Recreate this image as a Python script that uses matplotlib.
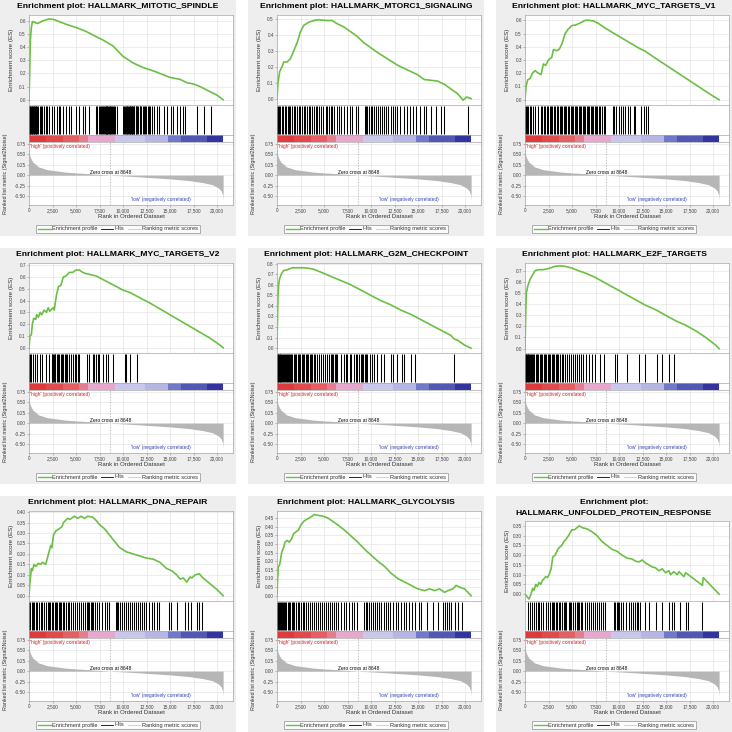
import matplotlib
matplotlib.use('Agg')
import matplotlib.pyplot as plt
from matplotlib.lines import Line2D

plt.rcParams['font.family'] = ['Liberation Sans', 'DejaVu Sans']

# ---------------- data ----------------
TITLES = [
    "Enrichment plot: HALLMARK_MITOTIC_SPINDLE",
    "Enrichment plot: HALLMARK_MTORC1_SIGNALING",
    "Enrichment plot: HALLMARK_MYC_TARGETS_V1",
    "Enrichment plot: HALLMARK_MYC_TARGETS_V2",
    "Enrichment plot: HALLMARK_G2M_CHECKPOINT",
    "Enrichment plot: HALLMARK_E2F_TARGETS",
    "Enrichment plot: HALLMARK_DNA_REPAIR",
    "Enrichment plot: HALLMARK_GLYCOLYSIS",
    "Enrichment plot:\nHALLMARK_UNFOLDED_PROTEIN_RESPONSE",
]

N_GENES = 20650
ZERO_CROSS = 8648
X_TICKS = [0, 2500, 5000, 7500, 10000, 12500, 15000, 17500, 20000]

METRIC_RANKS = [0, 60, 200, 400, 1000, 2000, 4000, 6000, 8648, 11000, 13000,
                15000, 17000, 18500, 19500, 20100, 20450, 20600, 20650]
METRIC_VALUES = [0.62, 0.50, 0.40, 0.32, 0.20, 0.13, 0.07, 0.04, 0.0, -0.03, -0.06,
                 -0.09, -0.13, -0.18, -0.23, -0.30, -0.38, -0.48, -0.60]
RANK_TICKS = [0.75, 0.5, 0.25, 0.0, -0.25, -0.5]

CB_EDGES = [0, 1800, 3600, 5300, 6300, 9200, 12300, 14800, 16200, 18900, 20650]
CB_COLORS = ['#de3a3c', '#e14a4c', '#e45e64', '#e67c90', '#e6a8cc',
             '#c8c8ee', '#b6b6e4', '#7078c8', '#5058b4', '#3434a0']

ES1_R = [0, 70, 140, 250, 360, 600, 900, 1200, 1430, 2140, 2680, 3200, 3930, 5000, 6070,
         7140, 7860, 8930, 10000, 11070, 12140, 13210, 14290, 15000, 16070, 16790, 17500,
         18210, 19290, 20000, 20650]
ES1_V = [0.0, 0.2, 0.45, 0.55, 0.595, 0.59, 0.58, 0.59, 0.60, 0.615, 0.61, 0.595, 0.575,
         0.55, 0.52, 0.48, 0.455, 0.41, 0.33, 0.28, 0.245, 0.22, 0.19, 0.17, 0.155, 0.13,
         0.12, 0.10, 0.06, 0.035, 0.0]
HITS1 = [0, 50, 107, 150, 214, 280, 357, 430, 500, 570, 643, 710, 785, 880, 1000, 1142,
         1285, 1428, 1607, 1785, 1964, 2142, 2428, 2678, 2928, 3142, 3321, 3570, 3927,
         4284, 4463, 4998, 5355, 5712, 5998, 6426, 7140, 7250, 7426, 7550, 7676, 7780,
         7854, 7997, 8070, 8140, 8210, 8283, 8350, 8425, 8500, 8568, 8650, 8747, 8830,
         8925, 9020, 9104, 9353, 9996, 10100, 10200, 10282, 10380, 10460, 10567, 10640,
         10710, 10780, 10853, 10920, 10996, 11070, 11138, 11210, 11353, 11420, 11495,
         11640, 11781, 11860, 11960, 12080, 12209, 12350, 12495, 12640, 12781, 12920,
         13066, 13280, 13566, 13852, 14351, 14637, 15065, 15351, 15708, 16065, 16351,
         16601, 17850, 18564, 19349]

ES2_R = [0, 107, 285, 534, 712, 1068, 1424, 1780, 2136, 2492, 2848, 3382, 3916, 4450,
         5340, 5874, 6408, 7120, 7832, 8544, 9256, 9968, 10680, 11748, 12816, 13884,
         14952, 15664, 16376, 17088, 17800, 18512, 19224, 19800, 20150, 20650]
ES2_V = [0.0, 0.10, 0.17, 0.20, 0.23, 0.23, 0.25, 0.30, 0.35, 0.42, 0.46, 0.48, 0.49,
         0.495, 0.49, 0.49, 0.47, 0.45, 0.42, 0.39, 0.35, 0.32, 0.29, 0.25, 0.21, 0.18,
         0.15, 0.12, 0.115, 0.11, 0.09, 0.06, 0.03, -0.01, 0.01, 0.0]
HITS2 = [0, 107, 214, 356, 498, 641, 854, 997, 1139, 1282, 1424, 1602, 1780, 1958, 2136,
         2314, 2492, 2670, 2848, 3026, 3204, 3418, 3560, 3738, 3916, 4130, 4272, 4486,
         4699, 4913, 5162, 5340, 5518, 5696, 5874, 6052, 6337, 6586, 6835, 7120, 7476,
         7761, 8010, 8366, 8615, 9327, 9470, 9612, 9790, 9968, 10146, 10324, 10538,
         10751, 10965, 11178, 11392, 11606, 11819, 12104, 12389, 12531, 12816, 13101,
         13457, 13813, 14098, 14454, 14810, 15237, 15664, 15878, 16376, 16910, 17444,
         17729, 20363]

ES3_R = [0, 107, 285, 534, 783, 1068, 1424, 1709, 1958, 2207, 2492, 2848, 3026, 3382,
         3631, 3916, 4272, 4557, 4984, 5411, 5874, 6408, 6764, 7298, 7832, 8544, 9256,
         9968, 10680, 11392, 12104, 12816, 13528, 14596, 15664, 16732, 17800, 18868,
         19936, 20650]
ES3_V = [0.0, 0.10, 0.15, 0.16, 0.20, 0.22, 0.20, 0.19, 0.27, 0.26, 0.30, 0.32, 0.38,
         0.37, 0.38, 0.42, 0.50, 0.53, 0.56, 0.565, 0.58, 0.60, 0.60, 0.595, 0.575, 0.54,
         0.51, 0.48, 0.45, 0.42, 0.39, 0.365, 0.33, 0.28, 0.23, 0.18, 0.13, 0.08, 0.03, 0.0]
HITS3 = [0, 107, 214, 356, 498, 641, 854, 1068, 1424, 1709, 1851, 1994, 2136, 2314, 2492,
         2670, 2777, 2919, 3062, 3204, 3382, 3560, 3702, 3845, 3987, 4130, 4272, 4414,
         4557, 4699, 4842, 4984, 5126, 5269, 5411, 5554, 5696, 5838, 5981, 6123, 6266,
         6408, 6550, 6693, 6835, 6978, 7120, 7262, 7405, 7547, 7690, 7832, 8010, 8188,
         8402, 8544, 9327, 9470, 9683, 9968, 10182, 10466, 10680, 10965, 11178, 11606,
         11748, 12318, 12674, 12887, 13101]

ES4_R = [0, 107, 250, 357, 500, 714, 821, 1000, 1178, 1357, 1607, 1856, 2035, 2213, 2428,
         2570, 2678, 2927, 3142, 3392, 3641, 3927, 4284, 4641, 4998, 5355, 5712, 6069,
         6605, 7140, 7854, 8568, 9282, 9996, 10710, 11424, 12138, 12852, 13923, 14994,
         16065, 17136, 18207, 19278, 20349, 20650]
ES4_V = [0.0, 0.10, 0.11, 0.20, 0.25, 0.24, 0.28, 0.26, 0.30, 0.28, 0.32, 0.30, 0.34,
         0.31, 0.33, 0.34, 0.32, 0.45, 0.52, 0.53, 0.60, 0.61, 0.64, 0.64, 0.66, 0.66,
         0.64, 0.63, 0.62, 0.61, 0.58, 0.55, 0.52, 0.49, 0.47, 0.44, 0.41, 0.38, 0.33,
         0.28, 0.23, 0.18, 0.13, 0.08, 0.02, 0.0]
HITS4 = [0, 107, 250, 393, 643, 893, 1142, 1428, 1785, 2142, 2428, 2499, 2570, 2642,
         2713, 2785, 2927, 3070, 3213, 3356, 3499, 3641, 3784, 3927, 4070, 4284, 4427,
         4641, 4855, 4998, 5212, 5355, 6140, 6426, 6783, 6962, 7140, 7354, 7497, 7854,
         8140, 8425, 8925, 10210, 10353, 10781, 11495]

ES5_R = [0, 36, 107, 178, 285, 463, 712, 1068, 1353, 1602, 2136, 2848, 3382, 3916, 4628,
         5696, 6764, 7832, 8900, 9968, 11036, 12104, 13172, 14240, 15308, 16376, 17444,
         18512, 18868, 19224, 19936, 20650]
ES5_V = [0.0, 0.20, 0.50, 0.60, 0.66, 0.70, 0.735, 0.74, 0.75, 0.76, 0.76, 0.76, 0.755,
         0.745, 0.72, 0.68, 0.64, 0.60, 0.55, 0.50, 0.45, 0.41, 0.36, 0.32, 0.27, 0.22,
         0.17, 0.12, 0.085, 0.075, 0.03, 0.0]
HITS5 = [0, 71, 142, 214, 285, 356, 463, 570, 676, 783, 890, 997, 1104, 1210, 1317, 1424,
         1531, 1638, 1780, 1922, 2065, 2207, 2350, 2492, 2634, 2777, 2919, 3062, 3204,
         3346, 3489, 3631, 3774, 3916, 4094, 4272, 4450, 4628, 4842, 5055, 5269, 5482,
         5696, 5838, 5981, 6123, 6266, 6408, 6764, 7120, 7298, 7476, 7761, 7903, 8188,
         8402, 8544, 8722, 8900, 9042, 9185, 9327, 9470, 9612, 9897, 10110, 10324, 10680,
         11036, 11392, 12104, 12389, 12816, 13314, 13528, 14240, 14667, 18868]

ES6_R = [0, 71, 142, 285, 534, 783, 1068, 1424, 1958, 2492, 3204, 3738, 4272, 4984, 5696,
         6408, 7476, 8544, 9612, 10680, 11748, 12816, 13884, 14952, 16020, 17088, 18156,
         19224, 20292, 20650]
ES6_V = [0.0, 0.30, 0.50, 0.56, 0.62, 0.66, 0.70, 0.71, 0.71, 0.72, 0.74, 0.745, 0.74,
         0.725, 0.70, 0.68, 0.64, 0.59, 0.54, 0.49, 0.44, 0.39, 0.35, 0.30, 0.25, 0.21,
         0.16, 0.10, 0.03, 0.0]
HITS6 = [0, 71, 142, 214, 285, 356, 463, 570, 676, 783, 890, 997, 1139, 1282, 1424, 1566,
         1709, 1851, 1994, 2136, 2278, 2421, 2563, 2706, 2848, 2990, 3133, 3275, 3418,
         3560, 3738, 3916, 4094, 4272, 4486, 4699, 4913, 5126, 5340, 5554, 5767, 5981,
         6194, 6515, 6764, 7120, 7476, 8010, 8366, 9541, 9790, 10858, 12104, 12745, 14062,
         14596, 15308, 15878]

ES7_R = [0, 71, 250, 357, 536, 714, 1000, 1250, 1428, 1785, 2071, 2321, 2428, 2606, 2856,
         3213, 3499, 3677, 4106, 4355, 4820, 5177, 5534, 5891, 6248, 6783, 7140, 7497,
         8033, 8568, 9104, 9639, 10353, 11067, 11781, 12495, 13209, 13923, 14637, 15173,
         15708, 16065, 16422, 16779, 17136, 17315, 17672, 18136, 18386, 18921, 19457,
         19992, 20650]
ES7_V = [0.0, 0.05, 0.13, 0.12, 0.15, 0.14, 0.155, 0.15, 0.16, 0.15, 0.20, 0.24, 0.23,
         0.29, 0.31, 0.32, 0.33, 0.35, 0.37, 0.365, 0.38, 0.37, 0.38, 0.37, 0.38, 0.375,
         0.36, 0.34, 0.32, 0.29, 0.26, 0.23, 0.21, 0.20, 0.19, 0.18, 0.175, 0.16, 0.13,
         0.12, 0.10, 0.08, 0.085, 0.065, 0.09, 0.085, 0.10, 0.105, 0.09, 0.07, 0.05, 0.03,
         0.0]
HITS7 = [0, 143, 286, 428, 571, 714, 893, 1071, 1285, 1428, 1642, 1856, 1999, 2142, 2285,
         2428, 2570, 2713, 2856, 2999, 3142, 3285, 3427, 3570, 3749, 3927, 4106, 4284,
         4498, 4712, 4927, 5141, 5355, 5569, 5712, 5926, 6140, 6283, 6426, 6569, 6712,
         6854, 6997, 7211, 7497, 7782, 8068, 8282, 8497, 9210, 9353, 9496, 9639, 9853,
         10067, 10282, 10496, 10710, 10924, 11138, 11353, 11567, 11781, 11995, 12209,
         12495, 12781, 13066, 13280, 13566, 13852, 14923, 15137, 15708, 16636, 16922,
         17208, 17850, 18136, 18421]

ES8_R = [0, 71, 142, 249, 355, 497, 710, 852, 1065, 1314, 1562, 1775, 2024, 2272, 2556,
         2840, 3089, 3444, 3728, 3976, 4331, 4864, 5396, 5929, 6461, 7171, 7881, 8591,
         9301, 10011, 10721, 11431, 12141, 12851, 13561, 14271, 14981, 15691, 16224,
         16756, 17289, 17821, 18176, 18709, 19064, 19419, 19951, 20306, 20650]
ES8_V = [0.0, 0.10, 0.17, 0.175, 0.20, 0.25, 0.28, 0.31, 0.32, 0.31, 0.33, 0.36, 0.37,
         0.38, 0.41, 0.43, 0.44, 0.45, 0.46, 0.47, 0.465, 0.46, 0.45, 0.43, 0.41, 0.38,
         0.345, 0.31, 0.27, 0.235, 0.20, 0.17, 0.13, 0.10, 0.08, 0.06, 0.04, 0.03, 0.04,
         0.03, 0.04, 0.02, 0.03, 0.04, 0.06, 0.05, 0.04, 0.02, 0.0]
HITS8 = [0, 71, 178, 284, 391, 497, 604, 710, 852, 994, 1136, 1278, 1420, 1562, 1704,
         1846, 2024, 2201, 2379, 2556, 2734, 2911, 3124, 3337, 3550, 3763, 3976, 4189,
         4402, 4615, 4828, 5041, 5254, 5467, 5680, 5893, 6106, 6319, 6532, 6816, 7100,
         7384, 7668, 7952, 8236, 8520, 9301, 9443, 9585, 9798, 10011, 10224, 10437, 10650,
         10863, 11076, 11360, 11573, 11786, 12070, 12354, 12638, 12922, 13206, 13490,
         13774, 14058, 14342, 14697, 15052, 15336, 15975, 16614, 17111, 17679, 17821,
         18034, 18247, 18531, 18957, 19241, 19667]

ES9_R = [0, 178, 427, 641, 819, 961, 1139, 1317, 1495, 1673, 1851, 2029, 2207, 2385, 2563,
         2777, 2955, 3204, 3489, 3667, 3916, 4130, 4343, 4628, 4984, 5269, 5518, 5767,
         6123, 6586, 7120, 7654, 8188, 8722, 9256, 9790, 10324, 10858, 11392, 11748,
         12104, 12460, 12816, 13172, 13528, 13884, 14240, 14596, 14952, 15308, 15486,
         15842, 16198, 16376, 16910, 17088, 18868, 18960, 20650]
ES9_V = [0.0, -0.01, -0.025, 0.0, 0.03, 0.02, 0.05, 0.04, 0.06, 0.05, 0.07, 0.08, 0.09,
         0.085, 0.10, 0.13, 0.19, 0.20, 0.23, 0.24, 0.25, 0.27, 0.28, 0.30, 0.33, 0.33,
         0.34, 0.35, 0.34, 0.335, 0.32, 0.30, 0.27, 0.25, 0.23, 0.22, 0.20, 0.185, 0.18,
         0.17, 0.165, 0.175, 0.16, 0.15, 0.14, 0.135, 0.12, 0.13, 0.11, 0.12, 0.10, 0.115,
         0.10, 0.115, 0.09, 0.11, 0.045, 0.085, 0.0]
HITS9 = [285, 534, 712, 961, 1139, 1353, 1531, 1709, 1958, 2207, 2421, 2634, 2848, 2990,
         3133, 3275, 3418, 3631, 3774, 3916, 4130, 4272, 4414, 4628, 4771, 4913, 5126,
         5340, 5482, 5625, 5767, 5910, 6052, 6408, 6622, 6835, 7048, 7262, 7476, 7690,
         7903, 8117, 8330, 8544, 9470, 9612, 9754, 9897, 10039, 10253, 10466, 10751,
         11036, 11250, 11463, 11677, 11890, 12033, 12246, 12816, 13172, 13884, 14596,
         15308, 15593, 15878, 16448, 17088, 17338, 18868]

ES_RANKS = [ES1_R, ES2_R, ES3_R, ES4_R, ES5_R, ES6_R, ES7_R, ES8_R, ES9_R]
ES_VALUES = [ES1_V, ES2_V, ES3_V, ES4_V, ES5_V, ES6_V, ES7_V, ES8_V, ES9_V]
HITS = [HITS1, HITS2, HITS3, HITS4, HITS5, HITS6, HITS7, HITS8, HITS9]

ES_TICKS = [
    [0.0, 0.1, 0.2, 0.3, 0.4, 0.5, 0.6],
    [0.0, 0.1, 0.2, 0.3, 0.4, 0.5],
    [0.0, 0.1, 0.2, 0.3, 0.4, 0.5, 0.6],
    [0.0, 0.1, 0.2, 0.3, 0.4, 0.5, 0.6, 0.7],
    [0.0, 0.1, 0.2, 0.3, 0.4, 0.5, 0.6, 0.7, 0.8],
    [0.0, 0.1, 0.2, 0.3, 0.4, 0.5, 0.6, 0.7],
    [0.0, 0.05, 0.10, 0.15, 0.20, 0.25, 0.30, 0.35, 0.40],
    [0.0, 0.05, 0.10, 0.15, 0.20, 0.25, 0.30, 0.35, 0.40, 0.45],
    [0.0, 0.05, 0.10, 0.15, 0.20, 0.25, 0.30, 0.35],
]
ES_YLIM = [(-0.04, 0.645), (-0.04, 0.525), (-0.04, 0.64), (-0.045, 0.72), (-0.045, 0.805),
           (-0.04, 0.77), (-0.025, 0.405), (-0.03, 0.49), (-0.035, 0.375)]
ES_FMT = ['{:.1f}'] * 6 + ['{:.2f}'] * 3

# ---------------- layout ----------------
W = H = 732
DPI = 100
fig = plt.figure(figsize=(W / DPI, H / DPI), dpi=DPI)
fig.patch.set_facecolor('white')

GREEN = '#6cbf45'
GRID = '#e4e4e4'
SPINE = '#a8a8a8'
TICKC = '#444444'
XMAX = 21700
TICK_FS = 3.4
NOTE_FS = 3.5


def fr(x, y, w, h):
    return [x / W, 1 - (y + h) / H, w / W, h / H]


def style_axes(ax):
    for s in ax.spines.values():
        s.set_color(SPINE)
        s.set_linewidth(0.5)
    ax.tick_params(length=1.2, width=0.4, color='#888888', labelsize=TICK_FS,
                   labelcolor=TICKC, pad=1.0)


for i in range(9):
    r, c = divmod(i, 3)
    ox, oy = 248 * c, 248 * r
    bg = fig.add_axes(fr(ox, oy, 236, 236), zorder=-10)
    bg.set_facecolor('#eeeeee')
    bg.set_xticks([])
    bg.set_yticks([])
    for s in bg.spines.values():
        s.set_visible(False)

    top = 25 if i == 8 else 15
    if i == 8:
        lines = TITLES[i].split('\n')
        fig.text((ox + 118) / W, 1 - (oy + 6.5) / H, lines[0], ha='center', va='center',
                 weight='bold', size=6.1)
        fig.text((ox + 118) / W, 1 - (oy + 17) / H, lines[1], ha='center', va='center',
                 weight='bold', size=6.1)
    else:
        fig.text((ox + 118) / W, 1 - (oy + 7) / H, TITLES[i], ha='center', va='center',
                 weight='bold', size=6.1)

    px, pw = ox + 29, 204
    # ES axes
    ax1 = fig.add_axes(fr(px, oy + top, pw, 105 - top))
    ax1.set_facecolor('white')
    ax1.set_xlim(0, XMAX)
    ax1.set_ylim(*ES_YLIM[i])
    ax1.set_xticks(X_TICKS)
    ax1.set_yticks(ES_TICKS[i])
    ax1.set_yticklabels([ES_FMT[i].format(v) for v in ES_TICKS[i]])
    ax1.grid(True, color=GRID, lw=0.5)
    ax1.set_axisbelow(True)
    style_axes(ax1)
    ax1.tick_params(axis='x', length=0, labelbottom=False)
    ax1.plot(ES_RANKS[i], ES_VALUES[i], color=GREEN, lw=1.2, solid_joinstyle='round')

    # hits axes
    ax2 = fig.add_axes(fr(px, oy + 105, pw, 30))
    ax2.set_xlim(0, XMAX)
    ax2.set_ylim(0, 1)
    ax2.set_xticks([])
    ax2.set_yticks([])
    style_axes(ax2)
    ax2.vlines(HITS[i], 0.03, 0.97, color='black', lw=0.75)

    # colour bar axes
    ax3 = fig.add_axes(fr(px, oy + 135, pw, 7))
    ax3.set_xlim(0, XMAX)
    ax3.set_ylim(0, 1)
    ax3.set_xticks([])
    ax3.set_yticks([])
    style_axes(ax3)
    for k in range(len(CB_COLORS)):
        ax3.axvspan(CB_EDGES[k], CB_EDGES[k + 1], color=CB_COLORS[k], lw=0)

    # ranked list axes
    ax4 = fig.add_axes(fr(px, oy + 142, pw, 63))
    ax4.set_xlim(0, XMAX)
    ax4.set_ylim(-0.72, 0.80)
    ax4.set_xticks(X_TICKS)
    ax4.set_xticklabels(['{:,}'.format(v) for v in X_TICKS])
    ax4.set_yticks(RANK_TICKS)
    ax4.set_yticklabels(['{:.2f}'.format(v) for v in RANK_TICKS])
    ax4.grid(True, color=GRID, lw=0.5)
    ax4.set_axisbelow(True)
    style_axes(ax4)
    ax4.fill_between(METRIC_RANKS, METRIC_VALUES, 0, color='#b6b6b6', lw=0)
    ax4.axvline(ZERO_CROSS, color='#aaaaaa', lw=0.5, ls=(0, (2, 2)))
    ax4.text(ZERO_CROSS, 0.06, 'Zero cross at %d' % ZERO_CROSS, ha='center', va='center',
             size=NOTE_FS, color='black')
    ax4.text(80, 0.70, "'high' (positively correlated)", ha='left', va='center',
             size=NOTE_FS, color='#dd2222')
    ax4.text(14000, -0.58, "'low' (negatively correlated)", ha='center', va='center',
             size=NOTE_FS, color='#3344bb')

    # axis labels
    fig.text((ox + 12) / W, 1 - (oy + (top + 105) / 2) / H, 'Enrichment score (ES)',
             rotation=90, ha='center', va='center', size=4.5, color='#333333')
    fig.text((ox + 6) / W, 1 - (oy + 174) / H, 'Ranked list metric (Signal2Noise)',
             rotation=90, ha='center', va='center', size=3.9, color='#333333')
    fig.text((ox + 131) / W, 1 - (oy + 217) / H, 'Rank in Ordered Dataset',
             ha='center', va='center', size=4.3, color='#333333')

    # legend
    handles = [Line2D([], [], color=GREEN, lw=1.0),
               Line2D([], [], color='black', lw=0.6),
               Line2D([], [], color='#cccccc', lw=0.6)]
    leg = fig.legend(handles, ['Enrichment profile', 'Hits', 'Ranking metric scores'],
                     loc='center', bbox_to_anchor=((ox + 118) / W, 1 - (oy + 229) / H),
                     ncol=3, fontsize=4.1, frameon=True, fancybox=False,
                     edgecolor='#777777', borderpad=0.35, handlelength=2.2,
                     handletextpad=0.3, columnspacing=0.5, borderaxespad=0)
    leg.get_frame().set_linewidth(0.5)
    for t in leg.get_texts():
        t.set_color('#333333')

fig.savefig('out.png', dpi=DPI, facecolor='white')
